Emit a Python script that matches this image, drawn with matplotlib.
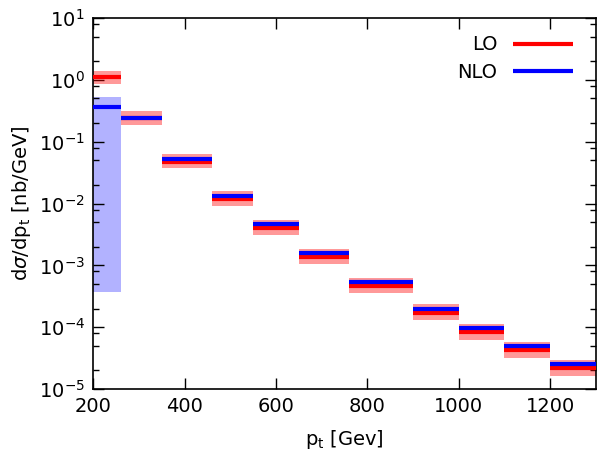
import numpy as np
import matplotlib
matplotlib.use("Agg")
from matplotlib import pyplot as plt
from matplotlib.ticker import LogLocator, NullFormatter

# bin edges in p_t [GeV]
edges = [200, 260, 350, 460, 550, 650, 760, 900, 1000, 1100, 1200, 1300]

# LO central value and scale band
lo = [1.10, 0.242, 0.0468, 0.0118, 0.0040, 0.00137, 4.66e-4, 1.72e-4, 8.36e-5, 4.25e-5, 2.19e-5]
lo_up = [1.39, 0.313, 0.063, 0.0159, 0.00539, 0.00183, 6.2e-4, 2.35e-4, 1.12e-4, 5.71e-5, 2.92e-5]
lo_dn = [0.865, 0.186, 0.0378, 0.00918, 0.00308, 0.00105, 3.55e-4, 1.30e-4, 6.16e-5, 3.15e-5, 1.61e-5]

# NLO central value and scale band
nlo = [0.363, 0.244, 0.0529, 0.0134, 0.00459, 0.00159, 5.38e-4, 1.98e-4, 9.64e-5, 4.93e-5, 2.55e-5]
nlo_up = [0.527, 0.254, 0.0550, 0.0139, 0.00477, 0.00165, 5.6e-4, 2.06e-4, 1.0e-4, 5.13e-5, 2.65e-5]
nlo_dn = [3.7e-4, 0.235, 0.0509, 0.0129, 0.00441, 0.00153, 5.17e-4, 1.90e-4, 9.27e-5, 4.74e-5, 2.45e-5]

xticks = [200, 400, 600, 800, 1000, 1200]

plt.rcParams['font.family'] = ['DejaVu Sans']
plt.rcParams['font.size'] = 14
plt.rcParams['axes.unicode_minus'] = False
plt.rcParams['mathtext.fontset'] = 'dejavusans'

edges = np.array(edges)
left = edges[:-1]
right = edges[1:]
width = right - left

fig = plt.figure(figsize=(5.97, 4.61), dpi=100)
ax = fig.add_axes([0.156, 0.156, 0.842, 0.805])

ax.bar(left, np.array(nlo_up) - np.array(nlo_dn), width, bottom=nlo_dn, align='edge',
       color='blue', alpha=0.3, linewidth=0, zorder=1)
ax.bar(left, np.array(lo_up) - np.array(lo_dn), width, bottom=lo_dn, align='edge',
       color='red', alpha=0.4, linewidth=0, zorder=2)
ax.hlines(lo, left, right, colors='red', linewidth=3, zorder=3, label='LO')
ax.hlines(nlo, left, right, colors='blue', linewidth=3, zorder=4, label='NLO')

ax.set_yscale('log')
ax.set_xlim(200, 1300)
ax.set_ylim(1e-5, 10)
ax.set_xticks(xticks)
ax.yaxis.set_major_locator(LogLocator(base=10, numticks=10))
ax.yaxis.set_minor_locator(LogLocator(base=10, subs=[2, 5, 8], numticks=20))
ax.yaxis.set_minor_formatter(NullFormatter())
ax.tick_params(which='both', direction='in', top=True, right=True, width=1)
ax.tick_params(which='major', length=8, labelsize=14, pad=6)
ax.tick_params(which='minor', length=4)
ax.tick_params(axis='x', which='minor', bottom=False, top=False)
for s in ax.spines.values():
    s.set_linewidth(1.2)

ax.set_xlabel(r'p$_\mathregular{t}$ [Gev]', fontsize=14, labelpad=8)
ax.set_ylabel(r'd$\sigma$/dp$_\mathregular{t}$ [nb/GeV]', fontsize=14)

ax.legend(loc='upper right', bbox_to_anchor=(0.99, 1.0), frameon=False, markerfirst=False,
          handlelength=3.1, handletextpad=0.8, labelspacing=0.45, fontsize=14)

fig.savefig('out.png', dpi=100)
